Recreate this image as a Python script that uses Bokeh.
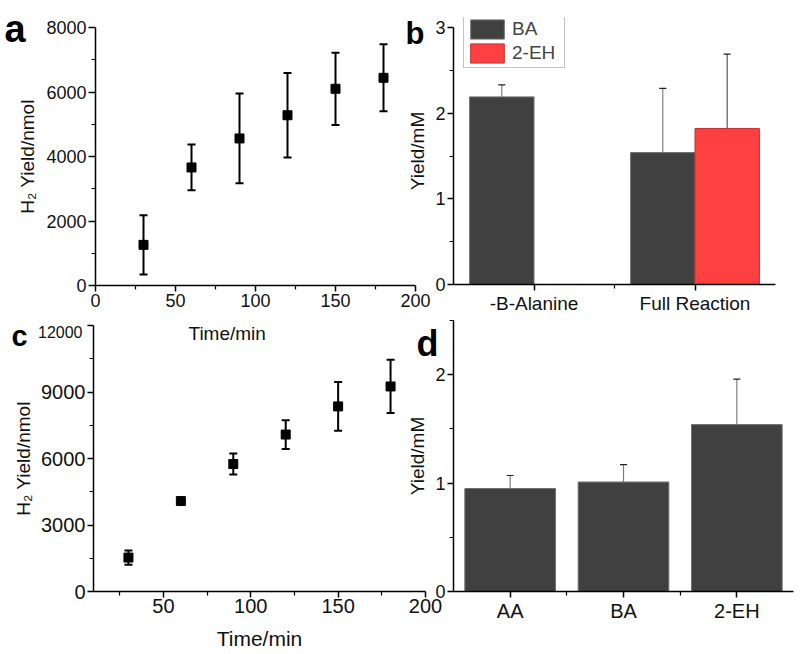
from bokeh.plotting import figure
from bokeh.layouts import column
from bokeh.models import (GridBox, Range1d, FixedTicker, Whisker, ColumnDataSource,
                          Label, Legend, LegendItem, TeeHead)
from bokeh.embed import file_html
from bokeh.resources import INLINE

# ---------------- data ----------------
time_a = [30, 60, 90, 120, 150, 180]
yield_a = [1260, 3660, 4560, 5280, 6100, 6440]
err_a = [920, 710, 1390, 1310, 1120, 1040]

time_c = [30, 60, 90, 120, 150, 180]
yield_c = [1530, 4080, 5750, 7080, 8350, 9250]
err_c = [320, 110, 470, 650, 1100, 1200]

cats_b = ["-B-Alanine", "Full Reaction"]
ba_b = [2.19, 1.54]
ba_b_err = [0.14, 0.75]
eh_b = [None, 1.82]
eh_b_err = [None, 0.87]

cats_d = ["AA", "BA", "2-EH"]
yield_d = [0.95, 1.01, 1.54]
err_d = [0.12, 0.16, 0.42]

ticks_a_x = [0, 50, 100, 150, 200]
minor_a_x = [25, 75, 125, 175]
ticks_a_y = [0, 2000, 4000, 6000, 8000]
minor_a_y = [1000, 3000, 5000, 7000]
ticks_c_x = [50, 100, 150, 200]
minor_c_x = [25, 75, 125, 175]
ticks_c_y = [0, 3000, 6000, 9000, 12000]
minor_c_y = [1500, 4500, 7500, 10500]
ticks_b_y = [0, 1, 2, 3]
minor_b_y = [0.5, 1.5, 2.5]
ticks_d_y = [0, 1, 2]
minor_d_y = [0.5, 1.5, 2.5]

panel_names = ["a", "b", "c", "d"]
x_title = "Time/min"
y_title_h2 = "H\u2082 Yield/nmol"
y_title_mm = "Yield/mM"

FONT = "Liberation Sans"
DARK = "#404040"
RED = "#ff4040"
W, H = 798, 652


def make_fig(xr, yr, left, top, fw, fh):
    p = figure(width=W, height=H, output_backend="svg", toolbar_location=None,
               x_range=Range1d(*xr), y_range=Range1d(*yr),
               min_border_left=left, min_border_top=top,
               min_border_right=W - left - fw, min_border_bottom=H - top - fh,
               background_fill_color=None, border_fill_color=None,
               outline_line_color=None)
    p.title.visible = False
    p.xgrid.visible = False
    p.ygrid.visible = False
    return p


def style_axis(ax, size, lsize, major_out=6):
    ax.axis_line_width = 1.5
    ax.axis_line_color = "black"
    ax.major_tick_line_width = 1.5
    ax.minor_tick_line_width = 1.2
    ax.major_tick_line_color = "black"
    ax.minor_tick_line_color = "black"
    ax.major_tick_out = major_out
    ax.major_tick_in = 0
    ax.minor_tick_out = 4
    ax.minor_tick_in = 0
    ax.major_label_text_font = FONT
    ax.major_label_text_font_size = size
    ax.major_label_text_color = "#111111"
    ax.major_label_standoff = 2
    ax.axis_label_text_font = FONT
    ax.axis_label_text_font_size = lsize
    ax.axis_label_text_font_style = "normal"
    ax.axis_label_text_color = "#111111"
    ax.axis_label_standoff = 4


def whisker(p, xs, ys, es, color, width, cap, cap_color):
    src = ColumnDataSource(dict(x=xs, upper=[y + e for y, e in zip(ys, es)],
                                lower=[y - e for y, e in zip(ys, es)]))
    w = Whisker(base="x", upper="upper", lower="lower", source=src,
                line_color=color, line_width=width,
                upper_head=TeeHead(size=cap, line_color=cap_color, line_width=width),
                lower_head=TeeHead(size=cap, line_color=cap_color, line_width=width))
    p.add_layout(w)


# ---------------- panel a ----------------
pa = make_fig((0, 200), (0, 8000), 95, 27, 320, 258)
style_axis(pa.xaxis[0], "18px", "19px")
style_axis(pa.yaxis[0], "18px", "19px", major_out=7)
pa.xaxis[0].ticker = FixedTicker(ticks=ticks_a_x, minor_ticks=minor_a_x)
pa.yaxis[0].ticker = FixedTicker(ticks=ticks_a_y, minor_ticks=minor_a_y)
pa.yaxis[0].axis_label = y_title_h2
pa.yaxis[0].axis_label_standoff = 5
whisker(pa, time_a, yield_a, err_a, "black", 2, 8, "black")
pa.scatter(time_a, yield_a, marker="square", size=9, color="black")

# ---------------- panel b ----------------
# frame reaches 10 px above y=3 so that the legend is not clipped; axis bounded to 0..3
pb = make_fig((0.5, 2.5), (0, 3 + 10 / (257 / 3)), 453, 17, 322, 267)
style_axis(pb.xaxis[0], "19px", "18px")
style_axis(pb.yaxis[0], "18px", "19px")
pb.yaxis[0].bounds = (ticks_b_y[0], ticks_b_y[-1])
pos_b = [i + 1 for i in range(len(cats_b))]
pb.xaxis[0].ticker = FixedTicker(ticks=pos_b, minor_ticks=[1.5])
pb.xaxis[0].major_label_overrides = {p_: c for p_, c in zip(pos_b, cats_b)}
pb.yaxis[0].ticker = FixedTicker(ticks=ticks_b_y, minor_ticks=minor_b_y)
pb.yaxis[0].axis_label = y_title_mm
xb_ba = [x - 0.2 for x in pos_b]
r_ba = pb.vbar(x=xb_ba, top=ba_b, width=0.4, fill_color=DARK, line_color="#707070", line_width=1)
idx = [i for i, v in enumerate(eh_b) if v is not None]
xb_eh = [pos_b[i] + 0.2 for i in idx]
r_eh = pb.vbar(x=xb_eh, top=[eh_b[i] for i in idx], width=0.4, fill_color=RED,
               line_color="#c03030", line_width=1)
whisker(pb, xb_ba, ba_b, ba_b_err, "rgba(0,0,0,0.5)", 1.2, 7, "#222222")
whisker(pb, xb_eh, [eh_b[i] for i in idx], [eh_b_err[i] for i in idx],
        "rgba(0,0,0,0.65)", 1.2, 7, "#222222")
leg = Legend(items=[LegendItem(label="BA", renderers=[r_ba]),
                    LegendItem(label="2-EH", renderers=[r_eh])],
             location=(10, 216), glyph_width=42, glyph_height=24, label_width=50,
             label_height=20, label_standoff=4, padding=2, spacing=0, margin=0,
             label_text_font=FONT, label_text_font_size="19px",
             border_line_color="#8a8a8a", border_line_width=1,
             background_fill_color="white", background_fill_alpha=1)
pb.add_layout(leg, "center")

# ---------------- panel c ----------------
pc = make_fig((10, 200), (0, 12000), 93, 325, 332, 267)
style_axis(pc.xaxis[0], "20px", "21px")
style_axis(pc.yaxis[0], "20px", "19px")
pc.xaxis[0].ticker = FixedTicker(ticks=ticks_c_x, minor_ticks=minor_c_x)
pc.yaxis[0].ticker = FixedTicker(ticks=ticks_c_y, minor_ticks=minor_c_y)
pc.yaxis[0].major_label_overrides = {ticks_c_y[-1]: ""}
pc.xaxis[0].axis_label = x_title
pc.yaxis[0].axis_label = y_title_h2
pc.xaxis[0].major_label_standoff = 1
pc.xaxis[0].axis_label_standoff = 11
whisker(pc, time_c, yield_c, err_c, "black", 2, 8, "black")
pc.scatter(time_c, yield_c, marker="square", size=9, color="black")

# ---------------- panel d ----------------
pd = make_fig((0.5, 3.5), (0, 2.5), 453, 320, 340, 271)
style_axis(pd.xaxis[0], "20px", "19px")
style_axis(pd.yaxis[0], "18px", "19px")
pos_d = [i + 1 for i in range(len(cats_d))]
pd.xaxis[0].ticker = FixedTicker(ticks=pos_d, minor_ticks=[1.5, 2.5])
pd.xaxis[0].major_label_overrides = {p_: c for p_, c in zip(pos_d, cats_d)}
pd.yaxis[0].ticker = FixedTicker(ticks=ticks_d_y, minor_ticks=minor_d_y)
pd.yaxis[0].axis_label = y_title_mm
pd.vbar(x=pos_d, top=yield_d, width=0.8, fill_color=DARK, line_color="#707070", line_width=1)
whisker(pd, pos_d, yield_d, err_d, "rgba(0,0,0,0.5)", 1.2, 7, "#222222")

# ---------------- overlay for free texts (page pixel coordinates) ----------------
po = figure(width=W, height=H, output_backend="svg", toolbar_location=None,
            x_range=Range1d(0, W), y_range=Range1d(H, 0),
            x_axis_location=None, y_axis_location=None,
            min_border_left=0, min_border_right=0, min_border_top=0, min_border_bottom=0,
            background_fill_color=None, border_fill_color=None, outline_line_color=None)
po.title.visible = False
po.xgrid.visible = False
po.ygrid.visible = False
letter_spec = [(4, 28, "38px"), (405, 33, "31px"), (11, 335, "29px"), (416, 343, "36px")]
for name, (lx, ly, fs) in zip(panel_names, letter_spec):
    po.add_layout(Label(x=lx, y=ly, text=name, text_font=FONT, text_font_style="bold",
                        text_font_size=fs, text_color="black", text_baseline="alphabetic"))
po.add_layout(Label(x=82, y=331, text=str(ticks_c_y[-1]), text_font=FONT,
                    text_font_size="16px", text_color="#111111",
                    text_align="right", text_baseline="alphabetic"))
# x-axis title of panel a (offset to the left of the frame centre, as in the original)
po.add_layout(Label(x=188, y=333, text=x_title, text_font=FONT, text_font_size="19px",
                    text_color="#111111", text_baseline="alphabetic"))

grid = GridBox(children=[(column(pa), 0, 0), (column(pb), 0, 0),
                         (column(pc), 0, 0), (column(pd), 0, 0), (column(po), 0, 0)])

open("out.html", "w").write(file_html(grid, INLINE))
